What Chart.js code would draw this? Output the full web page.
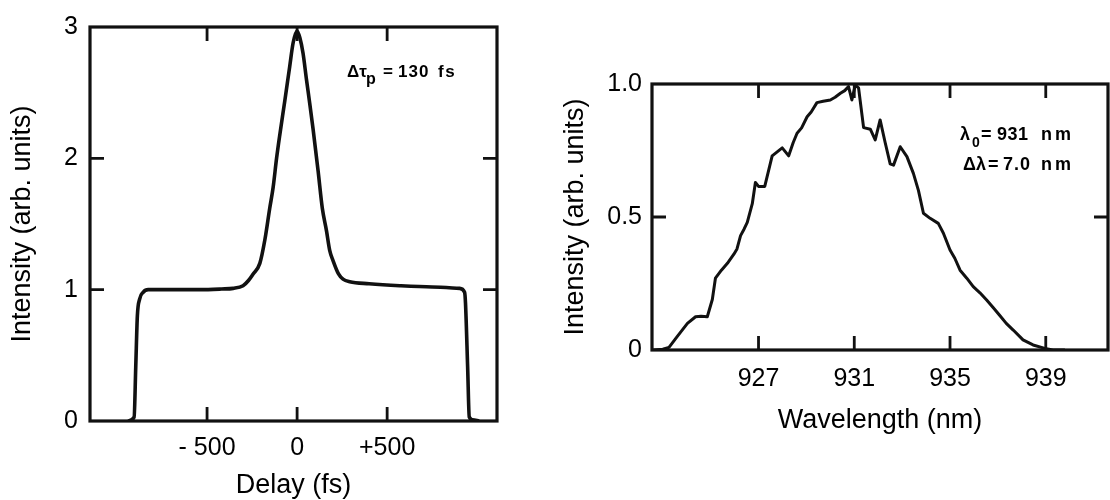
<!DOCTYPE html>
<html><head><meta charset="utf-8">
<script src="https://cdn.jsdelivr.net/npm/chart.js@4.4.0/dist/chart.umd.min.js"></script>
<style>
html,body{margin:0;padding:0;background:#fff;width:1110px;height:500px;overflow:hidden}
canvas{position:absolute;top:0}
#c1{left:0}
#c2{left:540px}
</style></head><body>
<canvas id="c1" width="540" height="500"></canvas>
<canvas id="c2" width="570" height="500"></canvas>
<script>
// ---- Left panel: autocorrelation ----
const delayFs = [-940, -905, -896, -887, -874, -855, -827, -700, -540, -420, -355, -300, -270, -244, -207, -179, -152, -133, -114, -96, -68, -41, -22, 0, 15, 33, 52, 70, 89, 117, 140, 163, 181, 200, 230, 255, 292, 400, 570, 750, 902, 930, 935, 947, 956, 974, 1011];
const autocorr = [0, 0.03, 0.41, 0.80, 0.93, 0.98, 1.0, 1.0, 1.0, 1.005, 1.01, 1.03, 1.07, 1.12, 1.2, 1.38, 1.62, 1.78, 2.0, 2.18, 2.44, 2.7, 2.88, 2.97, 2.92, 2.8, 2.6, 2.42, 2.22, 1.9, 1.62, 1.45, 1.3, 1.22, 1.12, 1.08, 1.06, 1.045, 1.03, 1.02, 1.01, 0.98, 0.9, 0.41, 0.03, 0.01, 0];
const delayTicks = [-500, 0, 500];
const delayTickLabels = ['- 500', '0', '+500'];
const intensityTicks1 = [0, 1, 2, 3];
const intensityTickLabels1 = ['0', '1', '2', '3'];

// ---- Right panel: spectrum ----
const wavelengthNm = [922.6, 923.0, 923.26, 923.6, 924.03, 924.37, 924.6, 924.86, 925.07, 925.2, 925.45, 925.7, 925.97, 926.1, 926.25, 926.4, 926.53, 926.74, 926.87, 927.0, 927.26, 927.57, 927.78, 927.99, 928.26, 928.45, 928.61, 928.8, 929.03, 929.2, 929.44, 929.7, 930.0, 930.2, 930.42, 930.6, 930.76, 930.9, 931.04, 931.18, 931.39, 931.67, 931.875, 932.08, 932.29, 932.5, 932.64, 932.92, 933.2, 933.47, 933.68, 933.89, 934.17, 934.51, 934.72, 935.0, 935.2, 935.42, 935.7, 935.97, 936.25, 936.53, 936.8, 937.08, 937.35, 937.64, 938.05, 938.47, 938.96, 939.3, 939.8];
const spectrum = [0, 0.003, 0.01, 0.05, 0.10, 0.125, 0.127, 0.125, 0.19, 0.27, 0.30, 0.326, 0.36, 0.38, 0.43, 0.455, 0.48, 0.55, 0.63, 0.615, 0.615, 0.73, 0.745, 0.76, 0.73, 0.78, 0.815, 0.835, 0.877, 0.895, 0.93, 0.935, 0.94, 0.95, 0.965, 0.975, 0.99, 0.94, 0.996, 0.985, 0.836, 0.83, 0.79, 0.865, 0.78, 0.70, 0.695, 0.764, 0.727, 0.664, 0.60, 0.514, 0.495, 0.476, 0.44, 0.376, 0.345, 0.30, 0.27, 0.238, 0.215, 0.188, 0.16, 0.13, 0.10, 0.075, 0.038, 0.019, 0.006, 0, 0];
const wavelengthTicks = [927, 931, 935, 939];
const wavelengthTickLabels = ['927', '931', '935', '939'];
const intensityTicks2 = [0, 0.5, 1];
const intensityTickLabels2 = ['0', '0.5', '1.0'];

const FONT = "'Liberation Sans', Arial, Helvetica, sans-serif";
const INK = '#111';
const TXT = '#000';

const framePlugin = {
  id: 'frame',
  afterDatasetsDraw(chart, args, opts) {
    const {ctx, chartArea: {left, right, top, bottom}, scales: {x, y}} = chart;
    ctx.save();
    ctx.strokeStyle = INK;
    ctx.lineWidth = 3.2;
    ctx.strokeRect(left, top, right - left, bottom - top);
    ctx.lineWidth = 2.8;
    ctx.beginPath();
    for (const v of opts.xTicks) {
      const px = x.getPixelForValue(v);
      ctx.moveTo(px, bottom); ctx.lineTo(px, bottom - opts.len);
      ctx.moveTo(px, top); ctx.lineTo(px, top + opts.len);
    }
    for (const v of opts.yTicks) {
      const py = y.getPixelForValue(v);
      ctx.moveTo(left, py); ctx.lineTo(left + opts.len, py);
      ctx.moveTo(right, py); ctx.lineTo(right - opts.len, py);
    }
    ctx.stroke();
    ctx.fillStyle = TXT;
    ctx.textBaseline = 'alphabetic';
    for (const t of opts.texts) {
      ctx.font = 'bold ' + t.size + 'px ' + FONT;
      ctx.letterSpacing = (t.ls || 0) + 'px';
      ctx.fillText(t.text, t.x, t.y);
    }
    ctx.restore();
  }
};

function makeChart(id, cfg) {
  return new Chart(document.getElementById(id), {
    type: 'line',
    data: { datasets: [{
      data: cfg.xs.map((v, i) => ({x: v, y: cfg.ys[i]})),
      borderColor: INK, borderWidth: cfg.lw, pointRadius: 0, fill: false,
      tension: cfg.tension, cubicInterpolationMode: cfg.cubic, borderJoinStyle: 'round'
    }]},
    options: {
      responsive: false, animation: false, devicePixelRatio: 1,
      layout: { padding: cfg.pad },
      plugins: { legend: {display: false}, tooltip: {enabled: false}, frame: cfg.frame },
      scales: {
        x: {
          type: 'linear', min: cfg.xmin, max: cfg.xmax,
          grid: {display: false, drawTicks: false}, border: {display: false},
          afterBuildTicks: s => { s.ticks = cfg.xt.map(v => ({value: v})); },
          afterFit: s => { s.height = cfg.xh; },
          ticks: { padding: cfg.xpad, color: TXT, font: {family: FONT, size: 25},
                   maxRotation: 0, autoSkip: false,
                   callback: v => cfg.xtl[cfg.xt.indexOf(v)] },
          title: { display: true, text: cfg.xtitle, color: TXT,
                   font: {family: FONT, size: 27, lineHeight: 1},
                   padding: {top: 0, bottom: cfg.xtp} }
        },
        y: {
          type: 'linear', min: cfg.ymin, max: cfg.ymax,
          grid: {display: false, drawTicks: false}, border: {display: false},
          afterBuildTicks: s => { s.ticks = cfg.yt.map(v => ({value: v})); },
          afterFit: s => { s.width = cfg.yw; },
          ticks: { padding: cfg.ypad, color: TXT, font: {family: FONT, size: 25},
                   autoSkip: false,
                   callback: v => cfg.ytl[cfg.yt.indexOf(v)] },
          title: { display: true, text: 'Intensity (arb. units)', color: TXT,
                   font: {family: FONT, size: 27, lineHeight: 1},
                   padding: {top: cfg.ytp, bottom: 0} }
        }
      }
    },
    plugins: [framePlugin]
  });
}

makeChart('c1', {
  xs: delayFs, ys: autocorr, lw: 3.6, tension: 0.4, cubic: 'monotone',
  pad: {top: 20, right: 43, left: 0, bottom: 0},
  xmin: -1150, xmax: 1110, ymin: 0, ymax: 3,
  xt: delayTicks, xtl: delayTickLabels, yt: intensityTicks1, ytl: intensityTickLabels1,
  xh: 79, yw: 90, xpad: 12, ypad: 12, xtp: 0.5, ytp: 9.5,
  xtitle: 'Delay (fs)',
  frame: { len: 14, xTicks: delayTicks, yTicks: [1, 2], texts: [
    {text: 'Δτ', x: 347, y: 77, size: 17},
    {text: 'p', x: 366, y: 84, size: 16},
    {text: '=', x: 383, y: 77, size: 17},
    {text: '130', x: 398, y: 77, size: 17, ls: 1},
    {text: 'fs', x: 438, y: 77, size: 17, ls: 1.5}
  ]}
});

makeChart('c2', {
  xs: wavelengthNm, ys: spectrum, lw: 3, tension: 0, cubic: 'default',
  pad: {top: 84, right: 2, left: 0, bottom: 0},
  xmin: 922.55, xmax: 941.6, ymin: 0, ymax: 1,
  xt: wavelengthTicks, xtl: wavelengthTickLabels, yt: intensityTicks2, ytl: intensityTickLabels2,
  xh: 150, yw: 112, xpad: 14, ypad: 10, xtp: 65.5, ytp: 22.5,
  xtitle: 'Wavelength (nm)',
  frame: { len: 14, xTicks: wavelengthTicks, yTicks: [0.5], texts: [
    {text: 'λ', x: 420, y: 140, size: 18},
    {text: '0', x: 432, y: 147, size: 14},
    {text: '=', x: 441, y: 140, size: 18},
    {text: '931', x: 457, y: 140, size: 18, ls: 0.5},
    {text: 'nm', x: 501, y: 140, size: 18, ls: 3},
    {text: 'Δλ', x: 423, y: 170, size: 18},
    {text: '=', x: 448, y: 170, size: 18},
    {text: '7.0', x: 463, y: 170, size: 18, ls: 1},
    {text: 'nm', x: 501, y: 170, size: 18, ls: 3}
  ]}
});
</script>
</body></html>
